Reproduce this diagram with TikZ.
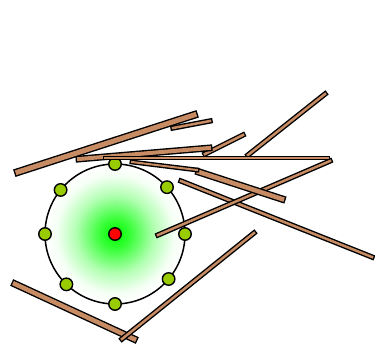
\documentclass[tikz,border=0pt]{standalone}
\definecolor{wood}{RGB}{200,140,100}
\definecolor{beadgreen}{RGB}{153,204,0}
\pgfdeclareradialshading{glow}{\pgfpoint{0bp}{0bp}}{color(0bp)=(green); color(5bp)=(green!80!white); color(14bp)=(green!30!white); color(21bp)=(green!4!white); color(25bp)=(white); color(50bp)=(white)}

\begin{document}
\begin{tikzpicture}[x=1pt, y=-1pt,
  ring/.style={circle, draw, line width=1.5pt, shading=glow, minimum size=140pt, inner sep=0pt, outer sep=0pt},
  bead/.style={circle, draw, line width=1.4pt, fill=beadgreen, minimum size=12.5pt, inner sep=0pt},
  hub/.style={circle, draw, line width=1.4pt, fill=red, minimum size=12.5pt, inner sep=0pt},
  stick/.style={draw=black, line width=1.4pt, double=wood, double distance=#1, line cap=rect}]
  \useasboundingbox (0,0) rectangle (375,346);
  \node[ring] (ring) at (115,234) {};
  \node[bead] (b1) at (ring.90) {};
  \node[bead] (b2) at (ring.42) {};
  \node[bead] (b3) at (ring.0) {};
  \node[bead] (b4) at (ring.-40) {};
  \node[bead] (b5) at (ring.-90) {};
  \node[bead] (b6) at (ring.226) {};
  \node[bead] (b7) at (ring.180) {};
  \node[bead] (b8) at (ring.141) {};
  \node[hub] (hub) at (ring.center) {};
  \coordinate (s1a) at (18,172);   \coordinate (s1b) at (194,115);
  \coordinate (s2a) at (173,128);  \coordinate (s2b) at (210,121);
  \coordinate (s3a) at (79,159);   \coordinate (s3b) at (209,148);
  \coordinate (s4a) at (105,158);  \coordinate (s4b) at (328,158);
  \coordinate (s5a) at (132,162);  \coordinate (s5b) at (197,170);
  \coordinate (s6a) at (199,172);  \coordinate (s6b) at (282,199);
  \coordinate (s7a) at (205,154);  \coordinate (s7b) at (243,135);
  \coordinate (s8a) at (248,155);  \coordinate (s8b) at (325,94);
  \coordinate (s9a) at (158,235);  \coordinate (s9b) at (330,161);
  \coordinate (s10a) at (181,181); \coordinate (s10b) at (372,257);
  \coordinate (s11a) at (122,339); \coordinate (s11b) at (254,233);
  \coordinate (s12a) at (15,284);  \coordinate (s12b) at (134,339);
  \draw[stick=4.5pt] (s12a) -- (s12b);
  \draw[stick=2.5pt] (s11a) -- (s11b);
  \draw[stick=2.5pt] (s10a) -- (s10b);
  \draw[stick=2.5pt] (s9a) -- (s9b);
  \draw[stick=4.5pt] (s6a) -- (s6b);
  \draw[stick=2pt] (s5a) -- (s5b);
  \draw[stick=2.5pt] (s8a) -- (s8b);
  \draw[stick=2.5pt] (s7a) -- (s7b);
  \draw[stick=4pt] (s3a) -- (s3b);
  \draw[stick=1.8pt] (s4a) -- (s4b);
  \draw[stick=2.5pt] (s2a) -- (s2b);
  \draw[stick=5pt] (s1a) -- (s1b);
\end{tikzpicture}
\end{document}
